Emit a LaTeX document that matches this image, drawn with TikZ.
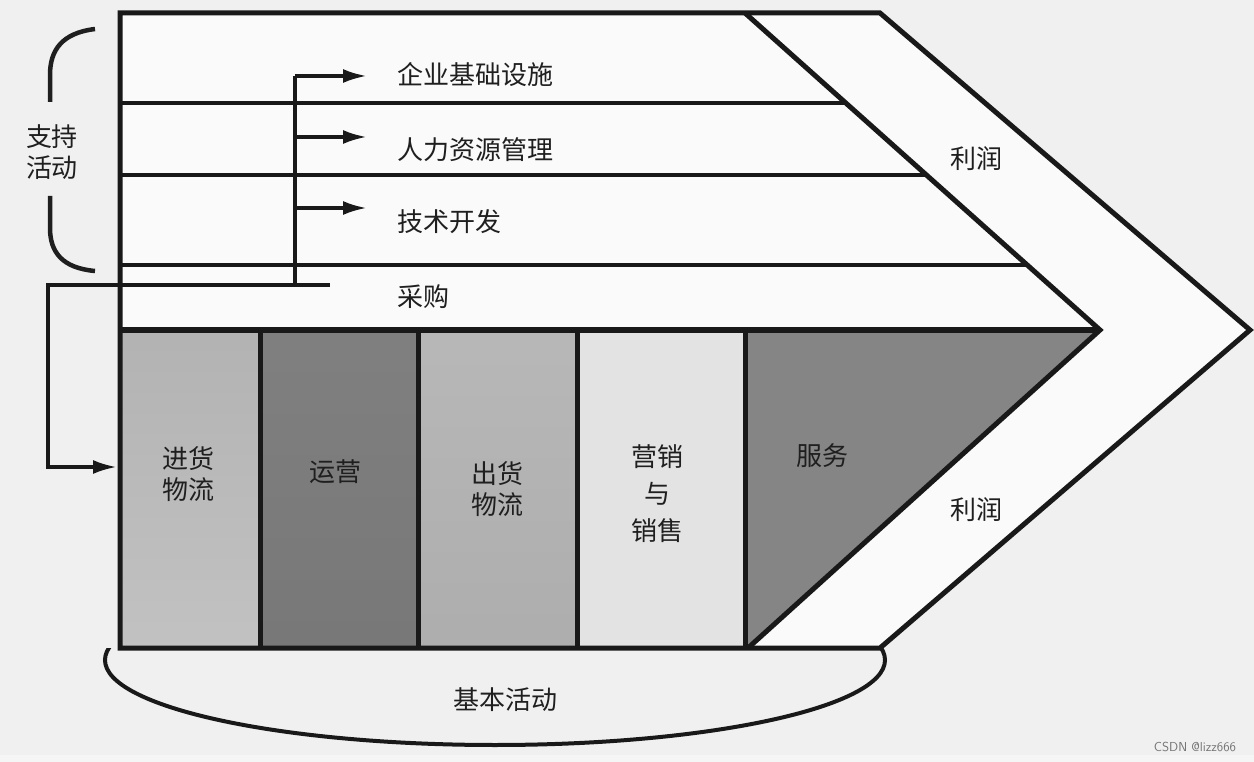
\documentclass[tikz,border=0pt]{standalone}
\usepackage{fontspec}
\newfontfamily\cjk{Noto Sans CJK SC}
\usetikzlibrary{arrows.meta}
\begin{document}
\begin{tikzpicture}[x=1pt,y=-1pt,line join=miter,
  lbl/.style={font=\cjk\fontsize{26}{31}\selectfont,text=black!88,inner sep=0pt,align=center},
  heavy/.style={line width=5pt,draw=black!90},
  medium/.style={line width=4pt,draw=black!90},
  arr/.style={-{Latex[length=24pt,width=14pt]},line width=3.6pt,draw=black!90}]
\useasboundingbox (0,0) rectangle (1254,762);
\fill[black!6] (0,0) rectangle (1254,762);
\fill[black!4] (0,755) rectangle (1254,762);
% chevron interior
\fill[black!2] (120,13) -- (880,13) -- (1250,330) -- (880,648) -- (120,648) -- cycle;
% primary activity boxes
\shade[top color=black!30,bottom color=black!24] (120,330) rectangle (260,648);
\shade[top color=black!50,bottom color=black!53] (260,330) rectangle (418,648);
\shade[top color=black!28,bottom color=black!32] (418,330) rectangle (577,648);
\fill[black!11] (577,330) rectangle (745,648);
\fill[black!48] (745,330) -- (1100,330) -- (748,648) -- (745,648) -- cycle;
% base ellipse
\begin{scope}
\clip (0,648) rectangle (1254,762);
\draw[medium] (495,660) ellipse [x radius=390,y radius=85];
\end{scope}
% support lines
\draw[medium] (120,103) -- (846,103);
\draw[medium] (120,175) -- (926,175);
\draw[medium] (120,265) -- (1027,265);
\draw[heavy,line width=6pt] (120,330) -- (1100,330);
% dividers
\foreach \x in {260,418,577,745} \draw[heavy] (\x,330) -- (\x,648);
% outline
\draw[heavy] (120,648) -- (120,13) -- (880,13) -- (1250,330) -- (880,648) -- cycle;
\draw[heavy] (745,13) -- (1100,330) -- (748,648);
% brace
\draw[line width=4.5pt,draw=black!88] (95,29) .. controls (62,33) and (50,50) .. (50,75) -- (50,102);
\draw[line width=4.5pt,draw=black!88] (50,196) -- (50,228) .. controls (50,252) and (62,268) .. (95,271);
% arrows
\coordinate (tb) at (295,285);
\coordinate (t1) at (295,76);
\coordinate (t2) at (295,137);
\coordinate (t3) at (295,208);
\coordinate (a1) at (367,76);
\coordinate (a2) at (367,137);
\coordinate (a3) at (367,208);
\coordinate (pr) at (330,285);
\coordinate (pl) at (48,285);
\coordinate (pd) at (48,467);
\coordinate (pe) at (117,467);
\draw[medium] (tb) -- (t1);
\draw[arr] (t1) -- (a1);
\draw[arr] (t2) -- (a2);
\draw[arr] (t3) -- (a3);
\draw[arr] (pr) -- (pl) -- (pd) -- (pe);
% labels
\node[lbl] (sup) at (52,152) {支持\\活动};
\node[lbl,anchor=west] (infra) at (397,75) {企业基础设施};
\node[lbl,anchor=west] (hr) at (397,150) {人力资源管理};
\node[lbl,anchor=west] (tech) at (397,222) {技术开发};
\node[lbl,anchor=west] (proc) at (397,297) {采购};
\node[lbl] (p1) at (976,159) {利润};
\node[lbl] (p2) at (976,510) {利润};
\node[lbl] (inb) at (188,474) {进货\\物流};
\node[lbl] (ops) at (335,472) {运营};
\node[lbl] (outb) at (497,489) {出货\\物流};
\node[lbl,font=\cjk\fontsize{26}{37}\selectfont] (mkt) at (657,494) {营销\\与\\销售};
\node[lbl] (svc) at (822,456) {服务};
\node[lbl] (base) at (505,700) {基本活动};
\node[font=\sffamily\fontsize{13}{15}\selectfont,text=black!55,inner sep=0pt] (wm) at (1195,747) {CSDN @lizz666};
\end{tikzpicture}
\end{document}
